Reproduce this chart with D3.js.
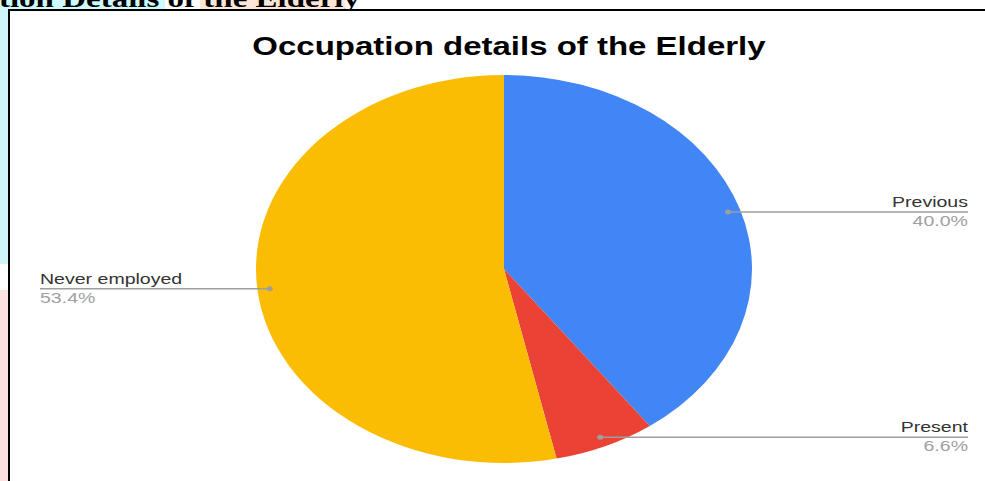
<!DOCTYPE html>
<html><head><meta charset="utf-8">
<script src="https://cdn.jsdelivr.net/npm/d3@7"></script>
<style>html,body{margin:0;padding:0;background:#fff;overflow:hidden}</style>
</head><body>
<svg id="c" width="985" height="481"></svg>
<script>
const categories = ["Previous", "Present", "Never employed"];
const values = [40.0, 6.6, 53.4];
const percentLabels = ["40.0%", "6.6%", "53.4%"];
const colors = ["#4285f4", "#ea4335", "#fbbc04"];

const svg = d3.select("#c");
const SX = 1.32; // horizontal stretch of the source picture

// background decorations from source document
svg.append("rect").attr("x",0).attr("y",0).attr("width",165).attr("height",9).attr("fill","#ccfafd");
svg.append("rect").attr("x",200).attr("y",0).attr("width",145).attr("height",9).attr("fill","#fde6d8");
svg.append("rect").attr("x",0).attr("y",9).attr("width",8).attr("height",255).attr("fill","#cff4fa");
svg.append("rect").attr("x",0).attr("y",290).attr("width",8).attr("height",191).attr("fill","#fde0e0");
svg.append("g").attr("transform",`translate(360,7) scale(${SX},1)`)
  .append("text").attr("x",0).attr("y",0).attr("text-anchor","end")
  .attr("font-family","Liberation Serif, Times New Roman, serif").attr("font-weight","bold")
  .attr("font-size",25).attr("fill","#000").text("Occupation Details of the Elderly");

// chart frame
svg.append("rect").attr("x",9).attr("y",10).attr("width",990).attr("height",500)
  .attr("fill","#fff").attr("stroke","#000").attr("stroke-width",2);

function stretchedText(x, y, anchor, size, weight, fill, txt) {
  svg.append("g").attr("transform",`translate(${x},${y}) scale(${SX},1)`)
    .append("text").attr("x",0).attr("y",0).attr("text-anchor",anchor)
    .attr("font-family","Liberation Sans, Arial, sans-serif").attr("font-weight",weight)
    .attr("font-size",size).attr("fill",fill).text(txt);
}

stretchedText(509, 55, "middle", 25, "bold", "#000", "Occupation details of the Elderly");

const cx = 504, cy = 269, rx = 248, ry = 194;
const pie = d3.pie().sort(null).value(d => d)(values);
const arc = d3.arc().innerRadius(0).outerRadius(rx);
const g = svg.append("g").attr("transform", `translate(${cx},${cy}) scale(1,${ry/rx})`);
g.selectAll("path").data(pie).enter().append("path")
  .attr("d", arc).attr("fill", (d,i) => colors[i]);

// labels
const f = 0.95;
pie.forEach((d,i) => {
  const a = (d.startAngle + d.endAngle)/2;
  const px = cx + Math.sin(a)*rx*f;
  const py = cy - Math.cos(a)*ry*f;
  const right = Math.sin(a) > 0;
  const x2 = right ? 968 : 40;
  svg.append("line").attr("x1",px).attr("y1",py).attr("x2",x2).attr("y2",py)
    .attr("stroke","#9e9e9e").attr("stroke-width",1.5);
  svg.append("ellipse").attr("cx",px).attr("cy",py).attr("rx",3).attr("ry",2.5).attr("fill","#9e9e9e");
  const anchor = right ? "end" : "start";
  stretchedText(x2, py-5, anchor, 14.8, "normal", "#333", categories[i]);
  stretchedText(x2, py+14, anchor, 14.8, "normal", "#a0a0a0", percentLabels[i]);
});
</script>
</body></html>
